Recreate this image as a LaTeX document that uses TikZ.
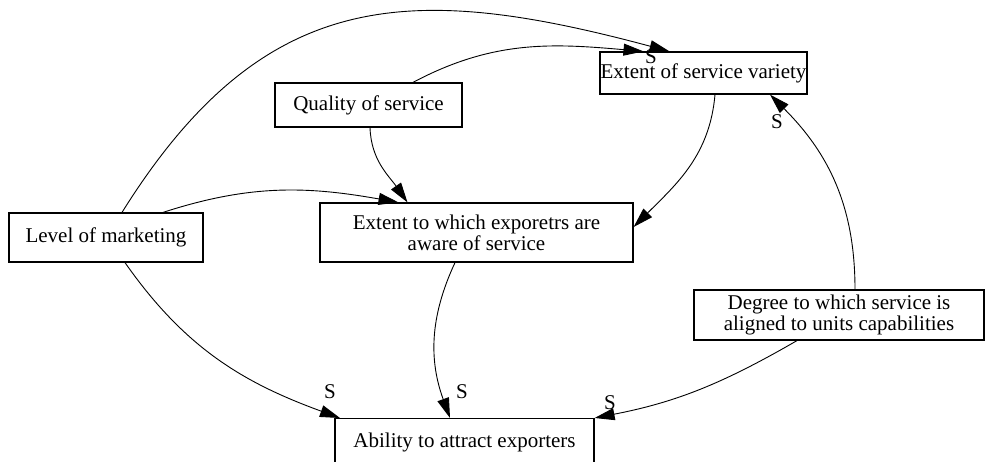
\documentclass[tikz,border=0pt]{standalone}
\usepackage{fontspec}
\setmainfont{Liberation Serif}
\usepackage{tikz}
\usetikzlibrary{arrows.meta}

\begin{document}
\begin{tikzpicture}[x=1pt,y=1pt,
		font=\fontsize{21}{21}\selectfont,
		box/.style={draw, line width=1.2pt, align=center, inner sep=0pt},
		link/.style={-{Triangle[length=20pt,width=12pt]}, line width=0.9pt},
		slabel/.style={inner sep=0pt}]
		\useasboundingbox (0,0) rectangle (987,461);
		\clip (0,0) rectangle (987,461);

		\node [box, minimum width=187pt, minimum height=44pt](QUALITY) at (368.5,356) {Quality of service};
		\node [box, minimum width=207pt, minimum height=42pt](VARIETY) at (703.5,388) {Extent of service variety};
		\node [box, minimum width=194pt, minimum height=49pt](MARKETING) at (106,223.5) {Level of marketing};
		\node [box, minimum width=313pt, minimum height=59pt](AWARE) at (476.5,228.5) {Extent to which exporetrs are\\aware of service};
		\node [box, minimum width=290pt, minimum height=50pt](DEGREE) at (839,146) {Degree to which service is\\aligned to units capabilities};
		\node [box, anchor=north, minimum width=259pt, text height=15pt, text depth=40pt, inner ysep=14pt](ABILITY) at (464.5,43) {Ability to attract exporters};

		\draw [link] ([xshift=16pt]MARKETING.north) to[out=58,in=165,looseness=1.2] ([xshift=-34pt]VARIETY.north);
		\draw [link] ([xshift=44.5pt]QUALITY.north) to[out=28,in=175] ([xshift=-60pt]VARIETY.north);
		\draw [link] ([xshift=1.5pt]QUALITY.south) to[out=-88,in=125] ([xshift=-69pt]AWARE.north);
		\draw [link] ([xshift=57pt]MARKETING.north) to[out=18,in=170] ([xshift=-78pt]AWARE.north);
		\draw [link] ([xshift=11.5pt]VARIETY.south) to[out=-95,in=45] ([yshift=5.5pt]AWARE.east);
		\draw [link] ([xshift=16pt]DEGREE.north) to[out=90,in=-45] ([xshift=66.5pt]VARIETY.south);
		\draw [link] ([xshift=-42pt]DEGREE.south) to[out=210,in=11] (ABILITY.north east);
		\draw [link] ([xshift=-21.5pt]AWARE.south) to[out=-115,in=110] ([xshift=-14.5pt]ABILITY.north);
		\draw [link] ([xshift=19pt]MARKETING.south) to[out=-55,in=160] ([xshift=-124.5pt]ABILITY.north);

		\node [slabel](S1) at (651,404) {S};
		\node [slabel](S2) at (777,339) {S};
		\node [slabel](S3) at (610,58) {S};
		\node [slabel](S4) at (462,69) {S};
		\node [slabel](S5) at (330,69) {S};

	\end{tikzpicture}
\end{document}
